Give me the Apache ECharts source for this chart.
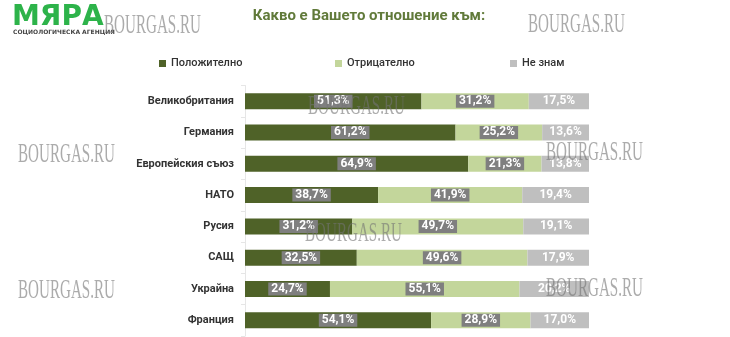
<!DOCTYPE html>
<html>
<head>
<meta charset="utf-8">
<script src="https://cdn.jsdelivr.net/npm/echarts@6/dist/echarts.min.js"></script>
<style>html,body{margin:0;padding:0;background:#fff}#c{width:730px;height:337px}</style>
</head>
<body>
<div id="c"></div>
<script>
var categories = ['Великобритания','Германия','Европейския съюз','НАТО','Русия','САЩ','Украйна','Франция'];
var positive = [51.3, 61.2, 64.9, 38.7, 31.2, 32.5, 24.7, 54.1];
var negative = [31.2, 25.2, 21.3, 41.9, 49.7, 49.6, 55.1, 28.9];
var unknown  = [17.5, 13.6, 13.8, 19.4, 19.1, 17.9, 20.2, 17.0];
var seriesNames = ['Положително','Отрицателно','Не знам'];
var colors = ['#4f6228','#c3d69b','#bfbfbf'];
var titleText = 'Какво е Вашето отношение към:';

var FONT = 'Roboto';
var chart = echarts.init(document.getElementById('c'));
function fmt(p){ return p.value.toFixed(1).replace('.', ',') + '%'; }
function boxLabel(){
  return {show:true, position:'inside', formatter:fmt, color:'#fff', fontWeight:'bold',
    fontSize:12, fontFamily:FONT, backgroundColor:'#7f7f7f', padding:[1,3,0,3]};
}
var wm = [[104,12],[528,11],[308,93],[18,141],[546,139],[305,220],[18,277],[546,275]];
var graphics = [
  {type:'text', left:12, top:4, style:{text:'МЯРА', fill:'#2db34a', font:'900 28px "DejaVu Sans"'}},
  {type:'text', left:13, top:29, style:{text:'СОЦИОЛОГИЧЕСКА АГЕНЦИЯ', fill:'#444', font:'bold 6px "DejaVu Sans"'}}
];
wm.forEach(function(p){
  graphics.push({type:'text', x:p[0], y:p[1], scaleX:0.56, z:100,
    style:{text:'BOURGAS.RU', fill:'rgba(115,115,115,0.6)', font:'27px "Liberation Serif"'}});
});
chart.setOption({
  animation:false,
  color:colors,
  title:{text:titleText, left:364, textAlign:'center', top:4,
    textStyle:{color:'#617a3a', fontSize:15, fontWeight:'bold', fontFamily:FONT}},
  legend:[0,1,2].map(function(i){
    return {data:[seriesNames[i]], left:[154,330,505][i], top:53, itemWidth:7, itemHeight:7,
      icon:'rect', itemGap:5, textStyle:{fontSize:11, fontWeight:500, color:'#333', fontFamily:FONT}};
  }),
  grid:{left:245, right:141, top:85.5, bottom:1, containLabel:false},
  xAxis:{type:'value', min:0, max:100, show:false},
  yAxis:{type:'category', data:categories, inverse:true,
    axisLine:{show:true, lineStyle:{color:'#e6e6e6'}},
    axisTick:{show:true, length:4, lineStyle:{color:'#e6e6e6'}},
    axisLabel:{color:'#333', fontWeight:'bold', fontSize:11, fontFamily:FONT, margin:11}},
  series:[
    {name:seriesNames[0], type:'bar', stack:'a', data:positive, barWidth:16, label:boxLabel()},
    {name:seriesNames[1], type:'bar', stack:'a', data:negative, barWidth:16, label:boxLabel()},
    {name:seriesNames[2], type:'bar', stack:'a', data:unknown, barWidth:16,
      label:{show:true, position:'inside', formatter:fmt, color:'#fff', fontWeight:'bold', fontSize:12, fontFamily:FONT}}
  ],
  graphic:graphics
});
</script>
</body>
</html>
